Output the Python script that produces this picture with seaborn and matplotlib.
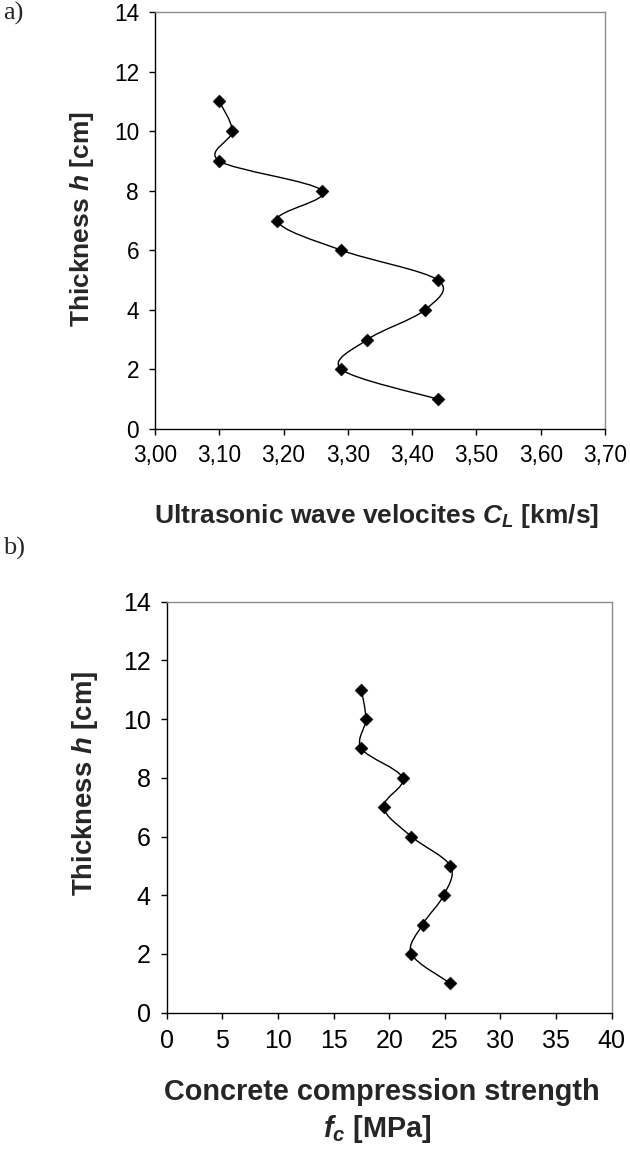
import numpy as np
import pandas as pd
import matplotlib
matplotlib.use("Agg")
import matplotlib.pyplot as plt
from matplotlib.path import Path
from matplotlib.patches import PathPatch
import seaborn as sns

# ---- data ----
thickness = [11, 10, 9, 8, 7, 6, 5, 4, 3, 2, 1]
velocity = [3.10, 3.12, 3.10, 3.26, 3.19, 3.29, 3.44, 3.42, 3.33, 3.29, 3.44]
strength = [17.5, 17.9, 17.5, 21.2, 19.5, 22.0, 25.5, 24.9, 23.0, 22.0, 25.5]

vel_ticks = [3.00, 3.10, 3.20, 3.30, 3.40, 3.50, 3.60, 3.70]
vel_ticklabels = ["3,00", "3,10", "3,20", "3,30", "3,40", "3,50", "3,60", "3,70"]
str_ticks = [0, 5, 10, 15, 20, 25, 30, 35, 40]
str_ticklabels = ["0", "5", "10", "15", "20", "25", "30", "35", "40"]
h_ticks = [0, 2, 4, 6, 8, 10, 12, 14]
h_ticklabels = ["0", "2", "4", "6", "8", "10", "12", "14"]

sns.set_theme(style="white")
plt.rcParams["font.family"] = ["Liberation Sans", "DejaVu Sans"]
plt.rcParams["mathtext.fontset"] = "custom"
plt.rcParams["mathtext.rm"] = "Liberation Sans"
plt.rcParams["mathtext.it"] = "Liberation Sans:italic"
plt.rcParams["mathtext.bf"] = "Liberation Sans:bold"
plt.rcParams["mathtext.bfit"] = "Liberation Sans:italic:bold"

W, H = 630, 1151
fig = plt.figure(figsize=(W / 100, H / 100), dpi=100)


def smooth_path(xs, ys):
    """Excel-like smoothed line: cubic Bezier segments through the points."""
    pts = np.column_stack([xs, ys]).astype(float)
    n = len(pts)
    verts = [pts[0]]
    codes = [Path.MOVETO]
    for i in range(n - 1):
        p0 = pts[i - 1] if i > 0 else pts[i]
        p1 = pts[i]
        p2 = pts[i + 1]
        p3 = pts[i + 2] if i + 2 < n else pts[i + 1]
        c1 = p1 + (p2 - p0) / 6.0
        c2 = p2 - (p3 - p1) / 6.0
        verts += [c1, c2, p2]
        codes += [Path.CURVE4] * 3
    return Path(verts, codes)


def style_axes(ax, xticks, xlabels, xlim, fs, ypad, xpad):
    ax.set_xlim(*xlim)
    ax.set_ylim(0, 14)
    ax.set_xticks(xticks)
    ax.set_xticklabels(xlabels)
    ax.set_yticks(h_ticks)
    ax.set_yticklabels(h_ticklabels)
    ax.set_xlabel("")
    ax.set_ylabel("")
    for s in ["top", "right"]:
        ax.spines[s].set_color("#8c8c8c")
        ax.spines[s].set_linewidth(1.0)
    for s in ["left", "bottom"]:
        ax.spines[s].set_color("black")
        ax.spines[s].set_linewidth(1.0)
    ax.tick_params(axis="both", which="both", direction="out", length=4.5,
                   width=1.0, color="black", labelsize=fs, labelcolor="black",
                   left=True, bottom=True, top=False, right=False)
    ax.tick_params(axis="y", pad=ypad)
    ax.tick_params(axis="x", pad=xpad)
    ax.grid(False)
    ax.set_facecolor("white")


# ---- panel a ----
ax1 = fig.add_axes([155 / W, 1 - 429 / H, 450 / W, 417 / H])
df1 = pd.DataFrame({"v": velocity, "h": thickness})
ax1.add_patch(PathPatch(smooth_path(df1["v"], df1["h"]), facecolor="none",
                        edgecolor="black", lw=1.0, zorder=2))
sns.scatterplot(data=df1, x="v", y="h", marker="D", s=44, color="black",
                edgecolor="black", linewidth=0.3, ax=ax1, zorder=3, legend=False)
style_axes(ax1, vel_ticks, vel_ticklabels, (3.0, 3.7), 16.3, 7, 6)

# ---- panel b ----
ax2 = fig.add_axes([166.7 / W, 1 - 1012.7 / H, 445 / W, 411 / H])
df2 = pd.DataFrame({"f": strength, "h": thickness})
ax2.add_patch(PathPatch(smooth_path(df2["f"], df2["h"]), facecolor="none",
                        edgecolor="black", lw=1.0, zorder=2))
sns.scatterplot(data=df2, x="f", y="h", marker="D", s=44, color="black",
                edgecolor="black", linewidth=0.3, ax=ax2, zorder=3, legend=False)
style_axes(ax2, str_ticks, str_ticklabels, (0, 40), 18, 7, 7)

# ---- labels ----
fig.text(82 / W, 1 - 219 / H, r"Thickness $\mathbfit{h}$ [cm]", rotation=90,
         ha="center", va="center", fontsize=19, fontweight="bold")
fig.text(377 / W, 1 - 523 / H, r"Ultrasonic wave velocites $\mathbfit{C}_{\mathbfit{L}}$ [km/s]",
         ha="center", va="baseline", fontsize=19, fontweight="bold")
fig.text(85 / W, 1 - 783 / H, r"Thickness $\mathbfit{h}$ [cm]", rotation=90,
         ha="center", va="center", fontsize=19.8, fontweight="bold")
fig.text(381.7 / W, 1 - 1100 / H, "Concrete compression strength",
         ha="center", va="baseline", fontsize=20.8, fontweight="bold")
fig.text(377.5 / W, 1 - 1137 / H, r"$\mathbfit{f}_{\mathbfit{c}}$ [MPa]",
         ha="center", va="baseline", fontsize=20.8, fontweight="bold")

fig.text(3 / W, 1 - 20 / H, "a)", ha="left", va="baseline", fontsize=19,
         family=["Liberation Serif", "DejaVu Serif"])
fig.text(3 / W, 1 - 555 / H, "b)", ha="left", va="baseline", fontsize=19,
         family=["Liberation Serif", "DejaVu Serif"])

fig.savefig("out.png", dpi=100, facecolor="white")
